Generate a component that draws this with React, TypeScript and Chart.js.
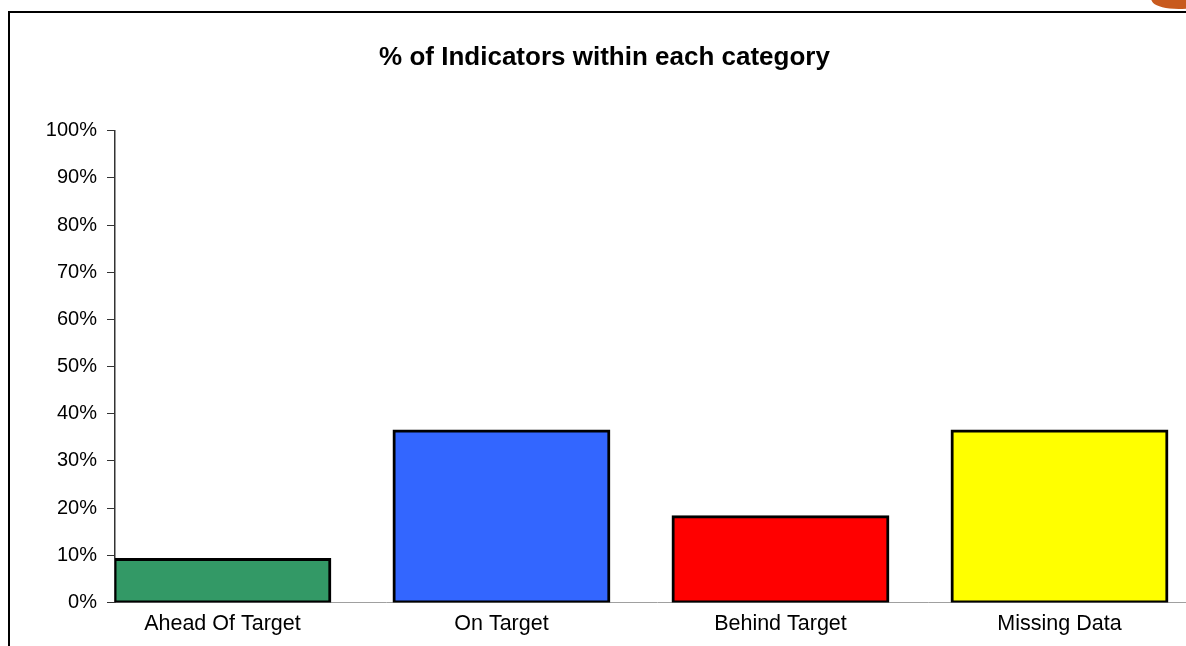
import React, { useEffect, useRef } from "react";
import { Chart, registerables } from "chart.js";

Chart.register(...registerables);

const categories = ["Ahead Of Target", "On Target", "Behind Target", "Missing Data"];
const percentValues = [9.09, 36.36, 18.18, 36.36];
const barColors = ["#339966", "#3366FF", "#FF0000", "#FFFF00"];
const yTickValues = [0, 10, 20, 30, 40, 50, 60, 70, 80, 90, 100];
const chartTitle = "% of Indicators within each category";

export default function App() {
  const canvasRef = useRef<HTMLCanvasElement | null>(null);

  useEffect(() => {
    const canvas = canvasRef.current;
    if (!canvas) return;
    const chart = new Chart(canvas, {
      type: "bar",
      data: {
        datasets: [
          {
            data: percentValues.map((v, i) => ({ x: i, y: v })),
            backgroundColor: barColors,
            borderColor: "#000000",
            borderWidth: 3,
            borderSkipped: false,
            inflateAmount: 1.5,
            categoryPercentage: 1,
            barPercentage: 0.77,
          },
        ],
      },
      options: {
        animation: false,
        responsive: false,
        maintainAspectRatio: false,
        layout: { padding: { left: 0, right: 0, top: 0, bottom: 0 } },
        plugins: {
          legend: { display: false },
          tooltip: { enabled: false },
          title: {
            display: true,
            text: chartTitle,
            color: "#000000",
            font: { family: "Arial, 'Liberation Sans', sans-serif", size: 26, weight: "bold", lineHeight: 1.2 },
            padding: { top: 29, bottom: 57.5 },
          },
        },
        scales: {
          x: {
            type: "linear",
            offset: false,
            bounds: "data",
            min: -0.385,
            max: 3.5,
            afterBuildTicks: (scale: any) => {
              scale.ticks = categories.map((_, i) => ({ value: i }));
            },
            afterFit: (scale: any) => {
              scale.height = 70.5;
            },
            grid: { display: false, drawTicks: false, offset: false },
            border: { display: true, color: "#a0a0a0", width: 1 },
            ticks: {
              autoSkip: false,
              maxRotation: 0,
              padding: 9,
              color: "#000000",
              font: { family: "Arial, 'Liberation Sans', sans-serif", size: 21.5 },
              callback: (v: any) => categories[Number(v)] ?? "",
            },
          },
          y: {
            min: 0,
            max: 100,
            afterBuildTicks: (scale: any) => {
              scale.ticks = yTickValues.map((v) => ({ value: v }));
            },
            afterFit: (scale: any) => {
              scale.width = 105;
            },
            grid: {
              display: true,
              drawOnChartArea: false,
              drawTicks: true,
              tickLength: 8,
              color: "#333333",
              lineWidth: 1,
            },
            border: { display: true, color: "#333333", width: 1.5 },
            ticks: {
              padding: 10,
              color: "#000000",
              font: { family: "Arial, 'Liberation Sans', sans-serif", size: 20 },
              callback: (v: any) => `${v}%`,
            },
          },
        },
      },
    });
    return () => chart.destroy();
  }, []);

  return (
    <div style={{ position: "fixed", inset: 0, overflow: "hidden", background: "#ffffff" }}>
      <div
        style={{
          position: "absolute",
          left: 1150,
          top: -30,
          width: 110,
          height: 36,
          borderRadius: "50%",
          background: "#c85a1e",
          transform: "rotate(-12deg)",
        }}
      />
      <div
        style={{
          position: "absolute",
          left: 8,
          top: 11,
          width: 1300,
          height: 700,
          borderLeft: "2px solid #000000",
          borderTop: "2px solid #000000",
          background: "#ffffff",
        }}
      >
        <canvas
          ref={canvasRef}
          width={1189}
          height={660}
          style={{ position: "absolute", left: 0, top: 0, width: 1189, height: 660 }}
        />
      </div>
    </div>
  );
}
